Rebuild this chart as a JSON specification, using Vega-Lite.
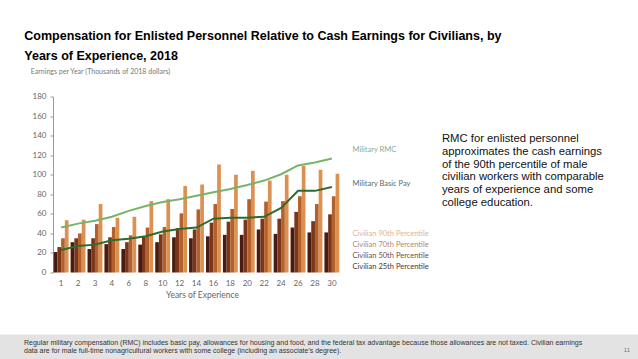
{
  "$schema": "https://vega.github.io/schema/vega-lite/v6.json",
  "padding": {"top": 29.5, "left": 0, "right": 0, "bottom": 0},
  "background": "white",
  "spacing": 35,
  "config": {"view": {"stroke": null}, "font": "Liberation Sans", "axisY": {"labelOverlap": false}},
  "datasets": {
    "bars": [
      {"year": "1", "series": "Civilian 25th Percentile", "value": 21},
      {"year": "1", "series": "Civilian 50th Percentile", "value": 26},
      {"year": "1", "series": "Civilian 70th Percentile", "value": 35},
      {"year": "1", "series": "Civilian 90th Percentile", "value": 53.5},
      {"year": "2", "series": "Civilian 25th Percentile", "value": 31},
      {"year": "2", "series": "Civilian 50th Percentile", "value": 35},
      {"year": "2", "series": "Civilian 70th Percentile", "value": 40},
      {"year": "2", "series": "Civilian 90th Percentile", "value": 54},
      {"year": "3", "series": "Civilian 25th Percentile", "value": 24},
      {"year": "3", "series": "Civilian 50th Percentile", "value": 35},
      {"year": "3", "series": "Civilian 70th Percentile", "value": 49.5},
      {"year": "3", "series": "Civilian 90th Percentile", "value": 70},
      {"year": "4", "series": "Civilian 25th Percentile", "value": 29},
      {"year": "4", "series": "Civilian 50th Percentile", "value": 36},
      {"year": "4", "series": "Civilian 70th Percentile", "value": 46.5},
      {"year": "4", "series": "Civilian 90th Percentile", "value": 56},
      {"year": "6", "series": "Civilian 25th Percentile", "value": 24},
      {"year": "6", "series": "Civilian 50th Percentile", "value": 31},
      {"year": "6", "series": "Civilian 70th Percentile", "value": 38},
      {"year": "6", "series": "Civilian 90th Percentile", "value": 57},
      {"year": "8", "series": "Civilian 25th Percentile", "value": 28.5},
      {"year": "8", "series": "Civilian 50th Percentile", "value": 36.5},
      {"year": "8", "series": "Civilian 70th Percentile", "value": 46},
      {"year": "8", "series": "Civilian 90th Percentile", "value": 73},
      {"year": "10", "series": "Civilian 25th Percentile", "value": 31},
      {"year": "10", "series": "Civilian 50th Percentile", "value": 39},
      {"year": "10", "series": "Civilian 70th Percentile", "value": 46.5},
      {"year": "10", "series": "Civilian 90th Percentile", "value": 75},
      {"year": "12", "series": "Civilian 25th Percentile", "value": 36},
      {"year": "12", "series": "Civilian 50th Percentile", "value": 45.5},
      {"year": "12", "series": "Civilian 70th Percentile", "value": 60.5},
      {"year": "12", "series": "Civilian 90th Percentile", "value": 88.5},
      {"year": "14", "series": "Civilian 25th Percentile", "value": 35},
      {"year": "14", "series": "Civilian 50th Percentile", "value": 44},
      {"year": "14", "series": "Civilian 70th Percentile", "value": 64.5},
      {"year": "14", "series": "Civilian 90th Percentile", "value": 90},
      {"year": "16", "series": "Civilian 25th Percentile", "value": 37},
      {"year": "16", "series": "Civilian 50th Percentile", "value": 51},
      {"year": "16", "series": "Civilian 70th Percentile", "value": 70},
      {"year": "16", "series": "Civilian 90th Percentile", "value": 110.5},
      {"year": "18", "series": "Civilian 25th Percentile", "value": 38.5},
      {"year": "18", "series": "Civilian 50th Percentile", "value": 52},
      {"year": "18", "series": "Civilian 70th Percentile", "value": 65},
      {"year": "18", "series": "Civilian 90th Percentile", "value": 100},
      {"year": "20", "series": "Civilian 25th Percentile", "value": 38.5},
      {"year": "20", "series": "Civilian 50th Percentile", "value": 54},
      {"year": "20", "series": "Civilian 70th Percentile", "value": 75},
      {"year": "20", "series": "Civilian 90th Percentile", "value": 104},
      {"year": "22", "series": "Civilian 25th Percentile", "value": 44},
      {"year": "22", "series": "Civilian 50th Percentile", "value": 55},
      {"year": "22", "series": "Civilian 70th Percentile", "value": 72.5},
      {"year": "22", "series": "Civilian 90th Percentile", "value": 94},
      {"year": "24", "series": "Civilian 25th Percentile", "value": 39.5},
      {"year": "24", "series": "Civilian 50th Percentile", "value": 55},
      {"year": "24", "series": "Civilian 70th Percentile", "value": 73},
      {"year": "24", "series": "Civilian 90th Percentile", "value": 100},
      {"year": "26", "series": "Civilian 25th Percentile", "value": 46},
      {"year": "26", "series": "Civilian 50th Percentile", "value": 62},
      {"year": "26", "series": "Civilian 70th Percentile", "value": 78},
      {"year": "26", "series": "Civilian 90th Percentile", "value": 109},
      {"year": "28", "series": "Civilian 25th Percentile", "value": 41},
      {"year": "28", "series": "Civilian 50th Percentile", "value": 52.5},
      {"year": "28", "series": "Civilian 70th Percentile", "value": 70},
      {"year": "28", "series": "Civilian 90th Percentile", "value": 105},
      {"year": "30", "series": "Civilian 25th Percentile", "value": 41},
      {"year": "30", "series": "Civilian 50th Percentile", "value": 59.5},
      {"year": "30", "series": "Civilian 70th Percentile", "value": 78},
      {"year": "30", "series": "Civilian 90th Percentile", "value": 101}
    ],
    "lines": [
      {"year": "1", "series": "Military RMC", "value": 46},
      {"year": "2", "series": "Military RMC", "value": 50},
      {"year": "3", "series": "Military RMC", "value": 53},
      {"year": "4", "series": "Military RMC", "value": 57},
      {"year": "6", "series": "Military RMC", "value": 63},
      {"year": "8", "series": "Military RMC", "value": 68},
      {"year": "10", "series": "Military RMC", "value": 72},
      {"year": "12", "series": "Military RMC", "value": 75},
      {"year": "14", "series": "Military RMC", "value": 78.5},
      {"year": "16", "series": "Military RMC", "value": 82},
      {"year": "18", "series": "Military RMC", "value": 85.5},
      {"year": "20", "series": "Military RMC", "value": 89.5},
      {"year": "22", "series": "Military RMC", "value": 94},
      {"year": "24", "series": "Military RMC", "value": 100.5},
      {"year": "26", "series": "Military RMC", "value": 109.5},
      {"year": "28", "series": "Military RMC", "value": 112.5},
      {"year": "30", "series": "Military RMC", "value": 116.5},
      {"year": "1", "series": "Military Basic Pay", "value": 23},
      {"year": "2", "series": "Military Basic Pay", "value": 27},
      {"year": "3", "series": "Military Basic Pay", "value": 28.5},
      {"year": "4", "series": "Military Basic Pay", "value": 33},
      {"year": "6", "series": "Military Basic Pay", "value": 34.5},
      {"year": "8", "series": "Military Basic Pay", "value": 37},
      {"year": "10", "series": "Military Basic Pay", "value": 42},
      {"year": "12", "series": "Military Basic Pay", "value": 44.5},
      {"year": "14", "series": "Military Basic Pay", "value": 46},
      {"year": "16", "series": "Military Basic Pay", "value": 55},
      {"year": "18", "series": "Military Basic Pay", "value": 56},
      {"year": "20", "series": "Military Basic Pay", "value": 56},
      {"year": "22", "series": "Military Basic Pay", "value": 57},
      {"year": "24", "series": "Military Basic Pay", "value": 66},
      {"year": "26", "series": "Military Basic Pay", "value": 83.5},
      {"year": "28", "series": "Military Basic Pay", "value": 83.5},
      {"year": "30", "series": "Military Basic Pay", "value": 87.5}
    ],
    "note": [
      {"text": "RMC for enlisted personnel"}
    ],
    "page": [
      {"text": "11"}
    ],
    "blank": [
      {"text": ""}
    ]
  },
  "vconcat": [
    {
      "spacing": 0,
      "hconcat": [
        {
          "width": 1,
          "height": 1,
          "data": {"name": "blank"},
          "mark": {"type": "text"},
          "encoding": {"text": {"field": "text"}}
        },
        {
          "width": 287,
          "height": 176,
          "title": {
            "text": ["Compensation for Enlisted Personnel Relative to Cash Earnings for Civilians, by", "Years of Experience, 2018"],
            "anchor": "start",
            "frame": "group",
            "dx": -28.7,
            "offset": 5.5,
            "font": "Liberation Sans",
            "fontSize": 12.5,
            "fontWeight": "bold",
            "color": "#000000",
            "lineHeight": 20
          },
          "layer": [
            {
              "encoding": {
                "x": {
                  "field": "year",
                  "type": "ordinal",
                  "sort": ["1", "2", "3", "4", "6", "8", "10", "12", "14", "16", "18", "20", "22", "24", "26", "28", "30"],
                  "scale": {"paddingInner": 0.12, "paddingOuter": 0.04},
                  "axis": {
                    "title": "Years of Experience",
                    "titleFont": "Lato",
                    "titleFontSize": 8.5,
                    "titleFontWeight": "normal",
                    "titleColor": "#666666",
                    "titlePadding": 3,
                    "titleX": 149,
                    "labelAngle": 0,
                    "labelFont": "Lato",
                    "labelFontSize": 8,
                    "labelColor": "#666666",
                    "labelPadding": 7,
                    "domain": false,
                    "ticks": false
                  }
                },
                "y": {
                  "field": "value",
                  "type": "quantitative",
                  "scale": {"domain": [0, 180]},
                  "axis": {
                    "title": "Earnings per Year (Thousands of 2018 dollars)",
                    "titleAngle": 0,
                    "titleAlign": "left",
                    "titleBaseline": "middle",
                    "titleX": -22.7,
                    "titleY": -24.7,
                    "titleFont": "Lato",
                    "titleFontSize": 7,
                    "titleFontWeight": "normal",
                    "titleColor": "#777777",
                    "values": [0, 20, 40, 60, 80, 100, 120, 140, 160, 180],
                    "labelOverlap": false,
                    "labelFont": "Lato",
                    "labelFontSize": 8,
                    "labelColor": "#666666",
                    "labelPadding": 4,
                    "domainColor": "#9a9a9a",
                    "tickColor": "#9a9a9a",
                    "tickSize": 3,
                    "grid": false,
                    "minExtent": 51.7
                  }
                }
              },
              "layer": [
                {
                  "data": {"name": "bars"},
                  "mark": {"type": "bar"},
                  "encoding": {
                    "xOffset": {
                      "field": "series",
                      "type": "nominal",
                      "sort": ["Civilian 25th Percentile", "Civilian 50th Percentile", "Civilian 70th Percentile", "Civilian 90th Percentile"],
                      "scale": {"paddingInner": 0, "paddingOuter": 0}
                    },
                    "fill": {
                      "field": "series",
                      "type": "nominal",
                      "scale": {
                        "domain": ["Civilian 90th Percentile", "Civilian 70th Percentile", "Civilian 50th Percentile", "Civilian 25th Percentile"],
                        "range": ["#dc9152", "#b3612b", "#7b351a", "#4a1c11"]
                      },
                      "legend": {
                        "orient": "none",
                        "legendX": 345,
                        "legendY": 133.5,
                        "title": null,
                        "padding": 0,
                        "symbolSize": 0,
                        "symbolOpacity": 0,
                        "symbolStrokeWidth": 0,
                        "labelOffset": 0,
                        "rowPadding": 2.1,
                        "labelFont": "Lato",
                        "labelFontSize": 7.5,
                        "labelLimit": 200,
                        "labelColor": {"expr": "datum.label == 'Civilian 90th Percentile' ? '#e2b28c' : datum.label == 'Civilian 70th Percentile' ? '#b58767' : datum.label == 'Civilian 50th Percentile' ? '#6f4c42' : '#4c3430'"}
                      }
                    }
                  }
                },
                {
                  "data": {"name": "lines"},
                  "mark": {"type": "line", "strokeWidth": 2},
                  "encoding": {
                    "stroke": {
                      "field": "series",
                      "type": "nominal",
                      "scale": {"domain": ["Military RMC", "Military Basic Pay"], "range": ["#78b36a", "#2f6b2f"]},
                      "legend": {
                        "orient": "none",
                        "legendX": 345,
                        "legendY": 49.5,
                        "title": null,
                        "padding": 0,
                        "symbolSize": 0,
                        "symbolOpacity": 0,
                        "symbolStrokeWidth": 0,
                        "labelOffset": 0,
                        "rowPadding": 25.5,
                        "labelFont": "Lato",
                        "labelFontSize": 7.5,
                        "labelLimit": 200,
                        "labelColor": {"expr": "datum.label == 'Military RMC' ? '#8eaa8e' : '#5d6a5e'"}
                      }
                    }
                  }
                }
              ]
            },
            {
              "data": {"name": "note"},
              "mark": {"type": "text", "align": "left", "baseline": "top", "dx": 110, "font": "Liberation Sans", "fontSize": 11.3, "lineHeight": 12.7, "color": "#111111"},
              "encoding": {
                "x": {"datum": "30", "type": "ordinal", "axis": {"labelAngle": 0, "labelFont": "Lato", "labelFontSize": 8, "labelColor": "#666666", "labelPadding": 7, "domain": false, "ticks": false}},
                "y": {"datum": 142.5, "type": "quantitative", "axis": {"values": [0, 20, 40, 60, 80, 100, 120, 140, 160, 180], "labelOverlap": false, "labelFont": "Lato", "labelFontSize": 8, "labelColor": "#666666", "labelPadding": 4, "domainColor": "#9a9a9a", "tickColor": "#9a9a9a", "tickSize": 3, "grid": false, "minExtent": 51.7}},
                "text": {"value": ["RMC for enlisted personnel", "approximates the cash earnings", "of the 90th percentile of male", "civilian workers with comparable", "years of experience and some", "college education."]}
              }
            }
          ]
        }
      ]
    },
    {
      "width": 638,
      "height": 26,
      "view": {"fill": "#e3e3e3", "stroke": null},
      "title": {
        "text": ["Regular military compensation (RMC) includes basic pay, allowances for housing and food, and the federal tax advantage because those allowances are not taxed. Civilian earnings", "data are for male full-time nonagricultural workers with some college (including an associate's degree)."],
        "anchor": "start",
        "frame": "group",
        "dx": 24,
        "offset": -19,
        "font": "Liberation Sans",
        "fontSize": 7,
        "fontWeight": "normal",
        "color": "#333333",
        "lineHeight": 7.5
      },
      "data": {"name": "page"},
      "mark": {"type": "text", "align": "right", "baseline": "middle", "fontSize": 6, "color": "#777777", "dx": -8, "dy": -11},
      "encoding": {
        "x": {"value": "width"},
        "y": {"value": "height"},
        "text": {"field": "text"}
      }
    }
  ]
}
